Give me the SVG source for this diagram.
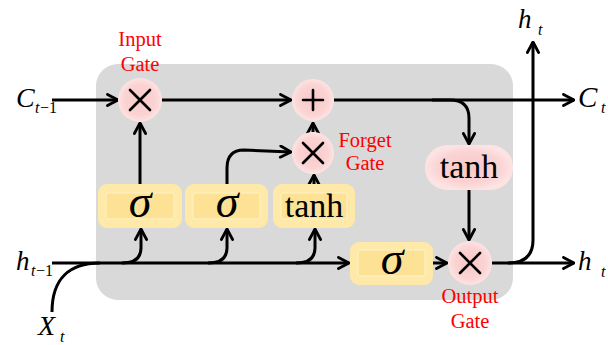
<svg xmlns="http://www.w3.org/2000/svg" width="608" height="345" viewBox="0 0 608 345">
<defs>
<marker id="arr" viewBox="0 0 10 10" refX="9" refY="5" markerWidth="14" markerHeight="14" markerUnits="userSpaceOnUse" orient="auto">
<path d="M1.5,1 L9,5 L1.5,9" fill="none" stroke="#000" stroke-width="2" stroke-linecap="round" stroke-linejoin="round"/>
</marker>
<radialGradient id="pink" cx="50%" cy="50%" r="50%">
<stop offset="0" stop-color="#f9c8c8"/>
<stop offset="0.7" stop-color="#fbd3d3"/>
<stop offset="1" stop-color="#fde3e3"/>
</radialGradient>
</defs>
<style>
.bg{fill:#d9d9d9}
.yo{fill:#fee9a8}
.yi{fill:#fde195;stroke:#feeebb;stroke-width:1.5}
.pk{fill:url(#pink)}
.op{stroke:#000;stroke-width:2.6;stroke-linecap:round}
.c{fill:none;stroke:#000;stroke-width:3}
.a{marker-end:url(#arr)}
text{font-family:'Liberation Serif','Times New Roman','DejaVu Serif',serif}
.lbl{fill:#000}
.it{font-style:italic}
.red{fill:#ff0000;font-size:20.5px;text-anchor:middle}
.sig{font-style:italic;font-size:46px;text-anchor:middle}
.tanh{font-size:34px;text-anchor:middle}
</style>
<rect class="bg" x="96" y="64" width="417" height="236" rx="22"/>

<g id="connectors">
<path class="c a" d="M52,100 H118"/>
<path class="c a" d="M140,184 V123"/>
<path class="c a" d="M162,100 H291"/>
<path class="c a" d="M313,132 V123"/>
<path class="c a" d="M334,100 H574"/>
<path class="c a" d="M432,100 H450 Q469,100 469,118 V144"/>
<path class="c a" d="M469,190 V240"/>
<path class="c a" d="M227,184 V168 Q227,150 244,150 L291,152"/>
<path class="c a" d="M314,185 V175"/>
<path class="c a" d="M52,263 H349"/>
<path class="c" d="M52,312 C52,278 70,263 100,263"/>
<path class="c a" d="M122,263 Q141,263 141,248 V229"/>
<path class="c a" d="M208,263 Q227,263 227,248 V229"/>
<path class="c a" d="M296,263 Q315,263 315,248 V229"/>
<path class="c a" d="M433,263 H447"/>
<path class="c a" d="M492,263 H574"/>
<path class="c a" d="M508,263 Q533,263 533,240 V42"/>
</g>

<g id="input-gate">
<circle class="pk" cx="140" cy="100" r="22"/>
<path class="op" d="M130,90 L150,110 M150,90 L130,110"/>
<text class="red" x="140" y="46">Input</text>
<text class="red" x="140" y="71">Gate</text>
</g>

<g id="plus">
<circle class="pk" cx="313" cy="100" r="21"/>
<path class="op" d="M313,90 V110 M303,100 H323"/>
</g>

<g id="forget-gate">
<circle class="pk" cx="313" cy="153" r="21"/>
<path class="op" d="M303,143 L323,163 M323,143 L303,163"/>
<text class="red" x="365" y="147">Forget</text>
<text class="red" x="365" y="170">Gate</text>
</g>

<g id="sigma1">
<rect class="yo" x="98" y="184" width="84" height="44" rx="9"/>
<rect class="yi" x="106" y="193" width="68" height="26" rx="2"/>
<text class="sig" x="140" y="217">σ</text>
</g>

<g id="sigma2">
<rect class="yo" x="185" y="184" width="83" height="44" rx="9"/>
<rect class="yi" x="193" y="193" width="67" height="26" rx="2"/>
<text class="sig" x="227" y="217">σ</text>
</g>

<g id="tanh1">
<rect class="yo" x="273" y="184" width="82" height="44" rx="9"/>
<rect class="yi" x="281" y="193" width="66" height="26" rx="2"/>
<text class="tanh" x="314" y="217">tanh</text>
</g>

<g id="sigma3">
<rect class="yo" x="350" y="242" width="83" height="43" rx="9"/>
<rect class="yi" x="358" y="250" width="67" height="26" rx="2"/>
<text class="sig" x="392" y="274">σ</text>
</g>

<g id="tanh2">
<rect class="pk" x="425" y="145" width="88" height="45" rx="22"/>
<text class="tanh" x="469" y="178">tanh</text>
</g>

<g id="output-gate">
<circle class="pk" cx="470" cy="263" r="22"/>
<path class="op" d="M460,253 L480,273 M480,253 L460,273"/>
<text class="red" x="470" y="303">Output</text>
<text class="red" x="470" y="328">Gate</text>
</g>

<g id="labels">
<text class="lbl it" x="16" y="107" font-size="28">C</text>
<text class="lbl it" x="35" y="113" font-size="16">t</text>
<text class="lbl" x="40" y="113" font-size="16">−1</text>
<text class="lbl it" x="578" y="107" font-size="29">C</text>
<text class="lbl it" x="601" y="113" font-size="16">t</text>
<text class="lbl it" x="16" y="270" font-size="27">h</text>
<text class="lbl it" x="31" y="276" font-size="16">t</text>
<text class="lbl" x="36" y="276" font-size="16">−1</text>
<text class="lbl it" x="578" y="270" font-size="27">h</text>
<text class="lbl it" x="601" y="277" font-size="16">t</text>
<text class="lbl it" x="518" y="28" font-size="27">h</text>
<text class="lbl it" x="538" y="35" font-size="16">t</text>
<text class="lbl it" x="38" y="335" font-size="28">X</text>
<text class="lbl it" x="60" y="342" font-size="16">t</text>
</g>
</svg>
